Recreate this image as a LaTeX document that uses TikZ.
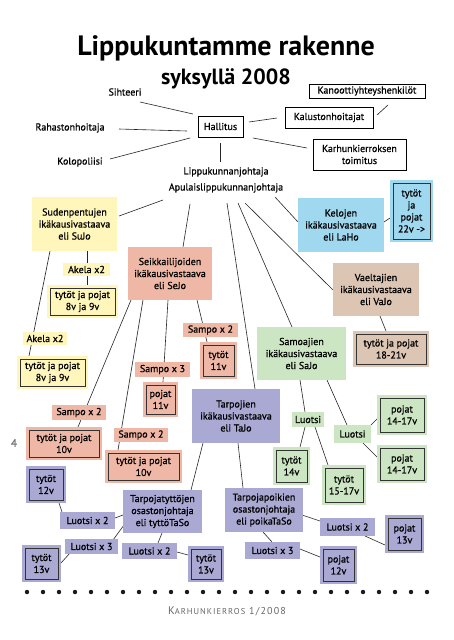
\documentclass[tikz,border=0pt]{standalone}
\usepackage{fontspec}
\setmainfont{PT Sans}[FakeBold=0.7]
\newfontfamily\titlefont{PT Sans Bold}
\newfontfamily\footfont{PT Sans}[LetterSpace=12]
\usetikzlibrary{backgrounds}
\definecolor{cyel}{HTML}{FFF6BC}
\definecolor{csal}{HTML}{EFB7A5}
\definecolor{cblu}{HTML}{A0D8F0}
\definecolor{ctan}{HTML}{DCC6B3}
\definecolor{cgrn}{HTML}{CCE5C3}
\definecolor{clav}{HTML}{A9A9D3}
\newcommand{\fs}{\fontsize{10}{12}\selectfont}
\begin{document}
\begin{tikzpicture}[x=1pt,y=-1pt,
  every node/.style={inner sep=0pt, align=center, font=\fs},
  sz/.style 2 args={minimum width=#1, minimum height=#2},
  wbox/.style={draw=black, line width=0.7pt, fill=white},
  grp/.style={fill=#1},
  lab/.style={fill=#1},
  leaf/.style={fill=#1, draw=black!80, line width=0.9pt, preaction={draw=#1, fill=#1, line width=6pt}},
  ln/.style={draw=black!85, line width=0.6pt}]
\useasboundingbox (0,0) rectangle (453,640);

% title
\node[font=\titlefont\fontsize{28}{30}\selectfont] (title) at (226,48) {Lippukuntamme rakenne};
\node[font=\titlefont\fontsize{22}{24}\selectfont] (sub) at (226,79) {syksyllä 2008};

% board
\node (sih) at (125,92) {Sihteeri};
\node[wbox, sz={116}{14}] (kan) at (367,91) {Kanoottiyhteyshenkilöt};
\node[wbox, sz={88}{21}] (kal) at (329,117.5) {Kalustonhoitajat};
\node[wbox, sz={45}{21}] (hal) at (220.5,126.5) {Hallitus};
\node (rah) at (70,128) {Rahastonhoitaja};
\node (kol) at (80,162) {Kolopoliisi};
\node[wbox, sz={93}{31}] (kar) at (359.5,154.5) {Karhunkierroksen\\toimitus};
\node (lpj) at (226,180) {Lippukunnanjohtaja\\[4pt]Apulaislippukunnanjohtaja};

% age groups
\node[grp=cyel, sz={85}{54}] (sud) at (74.5,224) {Sudenpentujen\\ikäkausivastaava\\eli SuJo};
\node[grp=csal, sz={84}{53}] (sej) at (170,273.5) {Seikkailijoiden\\ikäkausivastaava\\eli SeJo};
\node[grp=cblu, sz={86}{54}] (kel) at (341,225) {Kelojen\\ikäkausivastaava\\eli LaHo};
\node[grp=ctan, sz={86}{53}] (vae) at (376,289.5) {Vaeltajien\\ikäkausivastaava\\eli VaJo};
\node[grp=cgrn, sz={89}{53}] (sam) at (301.5,353.5) {Samoajien\\ikäkausivastaava\\eli SaJo};
\node[grp=clav, sz={88}{54}] (taj) at (236,416) {Tarpojien\\ikäkausivastaava\\eli TaJo};
\node[grp=clav, sz={79}{43}] (tty) at (162.5,511.5) {Tarpojatyttöjen\\osastonjohtaja\\eli tyttöTaSo};
\node[grp=clav, sz={78}{44}] (tpo) at (264,510) {Tarpojapoikien\\osastonjohtaja\\eli poikaTaSo};

% labels
\node[lab=cyel, sz={47}{13}] (ak1) at (86.5,269.5) {Akela x2};
\node[lab=cyel, sz={44}{13}] (ak2) at (45,338.5) {Akela x2};
\node[lab=csal, sz={55}{14}] (sa2u) at (210.5,330) {Sampo x 2};
\node[lab=csal, sz={55}{15}] (sa3) at (162.5,369.5) {Sampo x 3};
\node[lab=csal, sz={54}{14}] (sa2r) at (141,435) {Sampo x 2};
\node[lab=csal, sz={54}{15}] (sa2l) at (79,412.5) {Sampo x 2};
\node[lab=clav, sz={55}{17}] (lx2a) at (87.5,520.5) {Luotsi x 2};
\node[lab=clav, sz={53}{15}] (lx3a) at (91.5,546.5) {Luotsi x 3};
\node[lab=clav, sz={55}{16}] (lx2b) at (149.5,551) {Luotsi x 2};
\node[lab=clav, sz={55}{18}] (lx2c) at (347.5,527) {Luotsi x 2};
\node[lab=clav, sz={55}{17}] (lx3c) at (272.5,550.5) {Luotsi x 3};
\node[lab=cgrn, sz={32}{15}] (lu1) at (308,419.5) {Luotsi};
\node[lab=cgrn, sz={37}{18}] (lu2) at (352.5,434) {Luotsi};

% leaves (outer size minus 6)
\node[leaf=cyel, sz={65}{27}] (b8a) at (82.5,301.5) {tytöt ja pojat\\8v ja 9v};
\node[leaf=cyel, sz={65}{27}] (b8b) at (52.5,372.5) {tytöt ja pojat\\8v ja 9v};
\node[leaf=cblu, sz={37}{56}] (k22) at (411.5,211) {tytöt\\ja\\pojat\\22v ->};
\node[leaf=ctan, sz={70}{30}] (b1821) at (391,349) {tytöt ja pojat\\18-21v};
\node[leaf=csal, sz={31}{31}] (tyt11) at (218.5,360.5) {tytöt\\11v};
\node[leaf=csal, sz={29}{29}] (poj11) at (160.5,399.5) {pojat\\11v};
\node[leaf=csal, sz={71}{27}] (b10r) at (143.5,466.5) {tytöt ja pojat\\10v};
\node[leaf=csal, sz={70}{27}] (b10l) at (64,443.5) {tytöt ja pojat\\10v};
\node[leaf=clav, sz={34}{31}] (t12) at (46,484.5) {tytöt\\12v};
\node[leaf=clav, sz={33}{31}] (t13a) at (41.5,563.5) {tytöt\\13v};
\node[leaf=clav, sz={30}{30}] (t13b) at (206,564) {tytöt\\13v};
\node[leaf=clav, sz={33}{32}] (p13) at (404.5,534) {pojat\\13v};
\node[leaf=clav, sz={31}{32}] (p12) at (338.5,565) {pojat\\12v};
\node[leaf=cgrn, sz={31}{32}] (t14) at (291.5,466) {tytöt\\14v};
\node[leaf=cgrn, sz={38}{34}] (t1517) at (344,485) {tytöt\\15-17v};
\node[leaf=cgrn, sz={44}{34}] (p1417a) at (402,415) {pojat\\14-17v};
\node[leaf=cgrn, sz={44}{32}] (p1417b) at (402,464) {pojat\\14-17v};

% page decorations
\node[text=black!55, font=\fontsize{11}{11}\selectfont] (pg) at (14,443) {4};
\foreach \i in {0,...,25} \fill[black!90] (27+16*\i,592) circle (2.2);
\node[text=black!60, font=\footfont] (foot) at (227,611) {{\fontsize{11}{12}\selectfont K}{\fontsize{8.5}{12}\selectfont ARHUNKIERROS} {\fontsize{10}{12}\selectfont 1/2008}};

\begin{pgfonlayer}{background}
\fill[white] (0,0) rectangle (453,640);
\draw[ln] ([shift={(15,10)}]sih.center) -- ([shift={(-27.5,-12.5)}]hal.center);
\draw[ln] ([shift={(49,1)}]rah.center) -- ([shift={(-33.5,4.5)}]hal.center);
\draw[ln] ([shift={(30,-3)}]kol.center) -- ([shift={(-30.5,11.5)}]hal.center);
\draw[ln] ([shift={(28.5,-4.5)}]hal.center) -- ([shift={(-52,0.5)}]kal.center);
\draw[ln] ([shift={(48,-2.5)}]kal.center) -- ([shift={(21,14)}]kan.center);
\draw[ln] ([shift={(32.5,11.5)}]hal.center) -- ([shift={(-52.5,-6.5)}]kar.center);
\draw[ln] ([shift={(-0.5,16.5)}]hal.center) -- ([shift={(-6,-18)}]lpj.center);

\draw[ln] ([shift={(-63,20)}]lpj.center) -- ([shift={(44.5,-8)}]sud.center);
\draw[ln] ([shift={(-36,24)}]lpj.center) -- ([shift={(13,-26.5)}]sej.center);
\draw[ln] ([shift={(1,23)}]lpj.center) -- ([shift={(19,-27)}]taj.center);
\draw[ln] ([shift={(12,23)}]lpj.center) -- ([shift={(-9.5,-26.5)}]sam.center);
\draw[ln] ([shift={(19,23)}]lpj.center) -- ([shift={(-43,0.5)}]vae.center);
\draw[ln] ([shift={(49,17)}]lpj.center) -- ([shift={(-43,-3)}]kel.center);
\draw[ln] ([shift={(43,-3)}]kel.center) -- ([shift={(-21.5,7)}]k22.center);

\draw[ln] ([shift={(12.5,27)}]sud.center) -- ([shift={(4.5,-16.5)}]b8a.center);
\draw[ln] ([shift={(-24.5,27)}]sud.center) -- ([shift={(-23.5,-16.5)}]b8b.center);

\draw[ln] ([shift={(-39,26.5)}]sej.center) -- ([shift={(14,-16.5)}]b10l.center);
\draw[ln] ([shift={(-27,26.5)}]sej.center) -- ([shift={(-25.5,-16.5)}]b10r.center);
\draw[ln] ([shift={(-2,26.5)}]sej.center) -- ([shift={(2.5,-17.5)}]poj11.center);
\draw[ln] ([shift={(27,26.5)}]sej.center) -- ([shift={(-11.5,-18.5)}]tyt11.center);

\draw[ln] ([shift={(4,26.5)}]vae.center) -- ([shift={(-5,-18)}]b1821.center);

\draw[ln] ([shift={(-1.5,26.5)}]sam.center) -- ([shift={(-3,-7.5)}]lu1.center);
\draw[ln] ([shift={(25.5,26.5)}]sam.center) -- ([shift={(-5.5,-9)}]lu2.center);
\draw[ln] ([shift={(-3,7.5)}]lu1.center) -- ([shift={(8.5,-19)}]t14.center);
\draw[ln] ([shift={(7,7.5)}]lu1.center) -- ([shift={(-16,-20)}]t1517.center);
\draw[ln] ([shift={(14.5,-5)}]lu2.center) -- ([shift={(-24,3)}]p1417a.center);
\draw[ln] ([shift={(9.5,8)}]lu2.center) -- ([shift={(-24,-6)}]p1417b.center);

\draw[ln] ([shift={(-33,27)}]taj.center) -- ([shift={(28.5,-21.5)}]tty.center);
\draw[ln] ([shift={(2,27)}]taj.center) -- ([shift={(-21,-22)}]tpo.center);

\draw[ln] ([shift={(-39.5,3.5)}]tty.center) -- ([shift={(27.5,-2.5)}]lx2a.center);
\draw[ln] ([shift={(-25.5,-8.5)}]lx2a.center) -- ([shift={(13,18.5)}]t12.center);
\draw[ln] ([shift={(-38.5,13.5)}]tty.center) -- ([shift={(21.5,-6.5)}]lx3a.center);
\draw[ln] ([shift={(-21.5,6.5)}]lx3a.center) -- ([shift={(19.5,-0.5)}]t13a.center);
\draw[ln] ([shift={(-0.5,21.5)}]tty.center) -- ([shift={(8.5,-8)}]lx2b.center);
\draw[ln] ([shift={(27.5,1)}]lx2b.center) -- ([shift={(-18,-9)}]t13b.center);

\draw[ln] ([shift={(38,5)}]tpo.center) -- ([shift={(-27.5,-6)}]lx2c.center);
\draw[ln] ([shift={(17.5,9)}]lx2c.center) -- ([shift={(-19.5,11)}]p13.center);
\draw[ln] ([shift={(-1,22)}]tpo.center) -- ([shift={(-0.5,-8.5)}]lx3c.center);
\draw[ln] ([shift={(27.5,-1.5)}]lx3c.center) -- ([shift={(-18.5,-8)}]p12.center);
\end{pgfonlayer}
\end{tikzpicture}
\end{document}
